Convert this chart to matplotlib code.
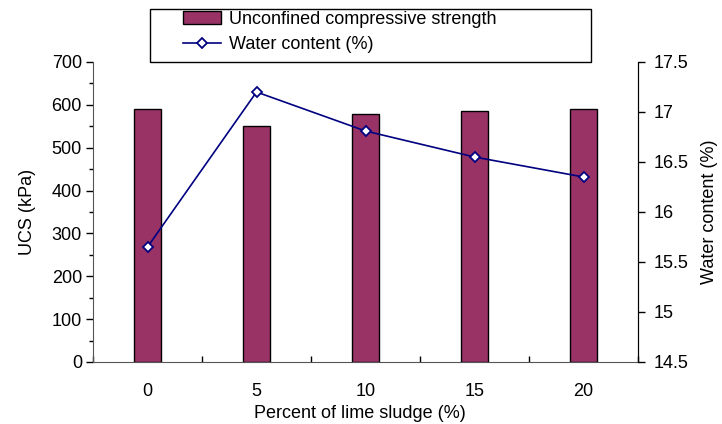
import matplotlib
matplotlib.use("Agg")
import matplotlib.pyplot as plt
from matplotlib.ticker import MultipleLocator, FixedLocator
from matplotlib.patches import Rectangle
import numpy as np

plt.rcParams['font.family'] = ['Liberation Sans', 'DejaVu Sans']

# data
lime_pct = ["0", "5", "10", "15", "20"]
ucs = [590, 551, 579, 586, 590]
water = [15.65, 17.2, 16.81, 16.55, 16.35]

BAR_COLOR = "#993366"
LINE_COLOR = "#000080"
FS = 13

W, H = 722, 424
fig = plt.figure(figsize=(W / 100, H / 100), dpi=100)
ax = fig.add_axes([93 / W, 1 - 362 / H, 545 / W, 300 / H])
ax2 = ax.twinx()

x = np.arange(len(lime_pct))
bars = ax.bar(x, ucs, width=0.255, color=BAR_COLOR, edgecolor="black", linewidth=1.0,
              label="Unconfined compressive strength")
line, = ax2.plot(x, water, color=LINE_COLOR, linewidth=1.2, marker="D", markersize=5.5,
                 markerfacecolor="white", markeredgecolor=LINE_COLOR, markeredgewidth=1.3,
                 label="Water content (%)")

ax.set_xlim(-0.5, 4.5)
ax.set_ylim(0, 700)
ax2.set_ylim(14.5, 17.5)

# left axis
ax.yaxis.set_major_locator(MultipleLocator(100))
ax.yaxis.set_minor_locator(MultipleLocator(50))
ax.tick_params(axis="y", which="major", direction="out", length=5, width=1, labelsize=FS, pad=3)
ax.tick_params(axis="y", which="minor", direction="out", length=3, width=1)
ax.set_ylabel("UCS (kPa)", fontsize=FS, labelpad=11)

# bottom axis: labels under categories, tick marks on the boundaries
ax.set_xticks(x)
ax.set_xticklabels(lime_pct)
ax.xaxis.set_minor_locator(FixedLocator(np.arange(-0.5, 5, 1.0)))
ax.tick_params(axis="x", which="major", length=0, labelsize=FS, pad=15)
ax.tick_params(axis="x", which="minor", direction="in", length=4, width=1)
ax.set_xlabel("Percent of lime sludge (%)", fontsize=FS)
ax.xaxis.set_label_coords(0.49, -0.142)

# right axis
ax2.set_yticks([14.5, 15, 15.5, 16, 16.5, 17, 17.5])
ax2.set_yticklabels(["14.5", "15", "15.5", "16", "16.5", "17", "17.5"])
ax2.tick_params(axis="y", direction="out", length=5, width=1, labelsize=FS, pad=6)
ax2.set_ylabel("Water content (%)", fontsize=FS, labelpad=9)

for a in (ax, ax2):
    a.spines["top"].set_visible(False)
ax.spines["left"].set_color("#555555")
ax.spines["bottom"].set_color("#555555")
ax2.spines["left"].set_visible(False)
ax2.spines["bottom"].set_visible(False)
ax2.spines["right"].set_color("black")

# legend frame drawn separately so its box matches the reference
fig.patches.append(Rectangle((150 / W, 1 - 62 / H), 441 / W, 53 / H, transform=fig.transFigure,
                             facecolor="white", edgecolor="black", linewidth=1.0, zorder=5))
leg = fig.legend(handles=[bars, line], loc="upper left",
                 bbox_to_anchor=(183 / W, 1 - 11 / H), fontsize=FS, frameon=False,
                 borderpad=0, labelspacing=0.45, handlelength=2.1, handletextpad=0.45,
                 borderaxespad=0)
leg.set_zorder(6)

fig.savefig("out.png", dpi=100)
